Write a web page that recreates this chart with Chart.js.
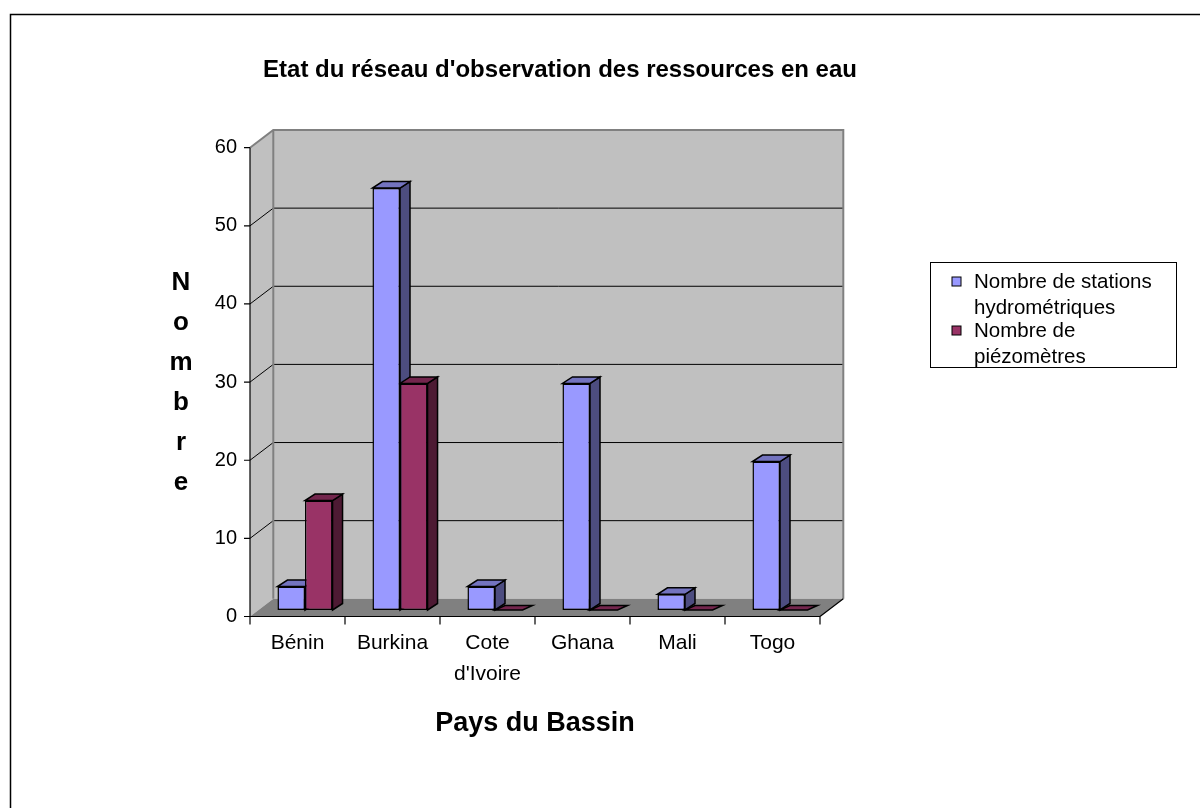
<!DOCTYPE html>
<html>
<head>
<meta charset="utf-8">
<script src="https://cdn.jsdelivr.net/npm/chart.js@4.4.1/dist/chart.umd.min.js"></script>
<style>
  html, body { margin: 0; padding: 0; background: #ffffff; }
  #wrap { width: 1200px; height: 808px; }
</style>
</head>
<body>
<div id="wrap"><canvas id="reseauChart" width="1200" height="808"></canvas></div>
<script>
// --- donnees ---
var categories = ['Bénin', 'Burkina', ['Cote', "d'Ivoire"], 'Ghana', 'Mali', 'Togo'];
var stations = [3, 54, 3, 29, 2, 19];
var piezometres = [14, 29, 0, 0, 0, 0];
var yTicks = [0, 10, 20, 30, 40, 50, 60];
var seriesLabels = [['Nombre de stations', 'hydrométriques'], ['Nombre de', 'piézomètres']];

var FONT = 'Arial, "Liberation Sans", sans-serif';

// couleurs facon Excel 2003 (face, cote, dessus)
var faces = [
    { front: '#9999ff', side: '#4d4d80', top: '#7373bf' },
    { front: '#993366', side: '#4d1a33', top: '#73264d' }
];

// profondeur du "mur" et decalage des barres
var WALL_DX = 23.3, WALL_DY = -17.7;
var BAR_SHIFT_X = 7.5, BAR_SHIFT_Y = -6.5;
var BAR_DX = 10, BAR_DY = -6.5;

function poly(ctx, pts, fill, stroke, lw) {
    ctx.beginPath();
    ctx.moveTo(pts[0][0], pts[0][1]);
    for (var k = 1; k < pts.length; k++) ctx.lineTo(pts[k][0], pts[k][1]);
    ctx.closePath();
    if (fill) { ctx.fillStyle = fill; ctx.fill(); }
    if (stroke) { ctx.strokeStyle = stroke; ctx.lineWidth = lw || 1; ctx.stroke(); }
}

// -------------------------------------------------------------------------
// PLUGIN: murs 3D, axes, titres et legende
// -------------------------------------------------------------------------
var excel3d = {
    id: 'excel3d',
    beforeDraw: function (chart) {
        var ctx = chart.ctx;
        var area = chart.chartArea;
        var y = chart.scales.y;
        var L = area.left, R = area.right, B = y.getPixelForValue(0), T = y.getPixelForValue(60);

        ctx.save();
        ctx.fillStyle = '#ffffff';
        ctx.fillRect(0, 0, chart.width, chart.height);

        // cadre exterieur
        ctx.strokeStyle = '#000000';
        ctx.lineWidth = 1.5;
        ctx.strokeRect(10.5, 14.5, 1300, 900);

        // mur gauche, mur du fond, sol
        poly(ctx, [[L, T], [L + WALL_DX, T + WALL_DY], [L + WALL_DX, B + WALL_DY], [L, B]], '#c0c0c0');
        poly(ctx, [[L + WALL_DX, T + WALL_DY], [R + WALL_DX, T + WALL_DY], [R + WALL_DX, B + WALL_DY], [L + WALL_DX, B + WALL_DY]], '#c0c0c0');
        poly(ctx, [[L, B], [L + WALL_DX, B + WALL_DY], [R + WALL_DX, B + WALL_DY], [R, B]], '#808080');

        // quadrillage
        ctx.strokeStyle = '#000000';
        ctx.lineWidth = 1;
        yTicks.forEach(function (v) {
            if (v === 0 || v === 60) return;
            var py = y.getPixelForValue(v);
            ctx.beginPath();
            ctx.moveTo(L, py);
            ctx.lineTo(L + WALL_DX, py + WALL_DY);
            ctx.lineTo(R + WALL_DX, py + WALL_DY);
            ctx.stroke();
        });

        // aretes grises des murs
        ctx.strokeStyle = '#808080';
        ctx.lineWidth = 2;
        ctx.beginPath();
        ctx.moveTo(L, T);
        ctx.lineTo(L + WALL_DX, T + WALL_DY);
        ctx.lineTo(R + WALL_DX, T + WALL_DY);
        ctx.lineTo(R + WALL_DX, B + WALL_DY);
        ctx.moveTo(L + WALL_DX, T + WALL_DY);
        ctx.lineTo(L + WALL_DX, B + WALL_DY);
        ctx.stroke();
        ctx.restore();
    },
    beforeDatasetsDraw: function (chart) {
        var ctx = chart.ctx;
        ctx.save();
        ctx.translate(BAR_SHIFT_X, BAR_SHIFT_Y);
        ctx.lineJoin = 'miter';
        // faces de cote et dessus, avant les faces avant de Chart.js
        for (var j = 0; j < categories.length; j++) {
            for (var i = 0; i < chart.data.datasets.length; i++) {
                var bar = chart.getDatasetMeta(i).data[j];
                var x1 = bar.x - bar.width / 2, x2 = bar.x + bar.width / 2;
                var top = bar.y, base = bar.base;
                var c = faces[i];
                if (base - top > 0.5) {
                    poly(ctx, [[x2, top], [x2 + BAR_DX, top + BAR_DY], [x2 + BAR_DX, base + BAR_DY], [x2, base]], c.side, '#000000', 1.5);
                    poly(ctx, [[x1, top], [x2, top], [x2 + BAR_DX, top + BAR_DY], [x1 + BAR_DX, top + BAR_DY]], c.top, '#000000', 1.5);
                } else {
                    poly(ctx, [[x1, base], [x2, base], [x2 + BAR_DX, base + BAR_DY * 0.7], [x1 + BAR_DX, base + BAR_DY * 0.7]], c.top, '#000000', 1.5);
                }
            }
        }
    },
    afterDatasetsDraw: function (chart) {
        chart.ctx.restore();
    },
    afterDraw: function (chart) {
        var ctx = chart.ctx;
        var area = chart.chartArea;
        var x = chart.scales.x, y = chart.scales.y;
        var L = area.left, R = area.right, B = y.getPixelForValue(0), T = y.getPixelForValue(60);

        ctx.save();
        ctx.strokeStyle = '#000000';
        ctx.lineWidth = 1.2;
        ctx.fillStyle = '#000000';

        // axe vertical + graduations
        ctx.beginPath();
        ctx.moveTo(L, T);
        ctx.lineTo(L, B);
        yTicks.forEach(function (v) {
            var py = y.getPixelForValue(v);
            ctx.moveTo(L - 6, py);
            ctx.lineTo(L, py);
        });
        // axe horizontal + graduations
        ctx.moveTo(L, B);
        ctx.lineTo(R, B);
        for (var k = 0; k <= categories.length; k++) {
            var px = L + (R - L) * k / categories.length;
            ctx.moveTo(px, B);
            ctx.lineTo(px, B + 8);
        }
        // arete droite du sol
        ctx.moveTo(R, B);
        ctx.lineTo(R + WALL_DX, B + WALL_DY);
        ctx.stroke();

        ctx.font = '20px ' + FONT;
        ctx.textAlign = 'right';
        ctx.textBaseline = 'middle';
        yTicks.forEach(function (v) {
            ctx.fillText(String(v), L - 13, y.getPixelForValue(v));
        });

        ctx.font = '21px ' + FONT;
        ctx.textAlign = 'center';
        categories.forEach(function (cat, j) {
            var lines = Array.isArray(cat) ? cat : [cat];
            var cx = x.getPixelForValue(j);
            lines.forEach(function (ln, n) {
                ctx.fillText(ln, cx, B + 27 + n * 31);
            });
        });

        // titres
        ctx.font = 'bold 24px ' + FONT;
        ctx.fillText("Etat du réseau d'observation des ressources en eau", 560, 70);
        ctx.font = 'bold 27px ' + FONT;
        ctx.fillText('Pays du Bassin', 535, 724);
        ctx.font = 'bold 26px ' + FONT;
        'Nombre'.split('').forEach(function (ch, n) {
            ctx.fillText(ch, 181, 283 + n * 40);
        });

        // legende
        ctx.lineWidth = 1;
        ctx.strokeStyle = '#000000';
        ctx.strokeRect(930.5, 262.5, 246, 105);
        ctx.font = '20.5px ' + FONT;
        ctx.textAlign = 'left';
        var rowY = [[282, 308], [331, 357]];
        seriesLabels.forEach(function (lines, i) {
            ctx.fillStyle = faces[i].front;
            ctx.fillRect(952, rowY[i][0] - 5, 9, 9);
            ctx.strokeRect(952, rowY[i][0] - 5, 9, 9);
            ctx.fillStyle = '#000000';
            lines.forEach(function (ln, n) {
                ctx.fillText(ln, 974, rowY[i][n]);
            });
        });
        ctx.restore();
    }
};

var ctx = document.getElementById('reseauChart').getContext('2d');
var reseauChart = new Chart(ctx, {
    type: 'bar',
    data: {
        labels: categories,
        datasets: [{
            label: seriesLabels[0].join(' '),
            data: stations,
            backgroundColor: faces[0].front,
            borderColor: '#000000',
            borderWidth: 1.5,
            borderSkipped: false,
            categoryPercentage: 0.58,
            barPercentage: 1.0,
            clip: false
        }, {
            label: seriesLabels[1].join(' '),
            data: piezometres,
            backgroundColor: faces[1].front,
            borderColor: '#000000',
            borderWidth: 1.5,
            borderSkipped: false,
            categoryPercentage: 0.58,
            barPercentage: 1.0,
            clip: false
        }]
    },
    options: {
        responsive: false,
        animation: false,
        devicePixelRatio: 1,
        layout: { padding: { left: 250, right: 380, top: 147.7, bottom: 191.5 } },
        plugins: {
            legend: { display: false },
            title: { display: false },
            tooltip: { enabled: false }
        },
        scales: {
            x: { display: false, offset: true },
            y: { display: false, min: 0, max: 60 }
        }
    },
    plugins: [excel3d]
});
</script>
</body>
</html>
